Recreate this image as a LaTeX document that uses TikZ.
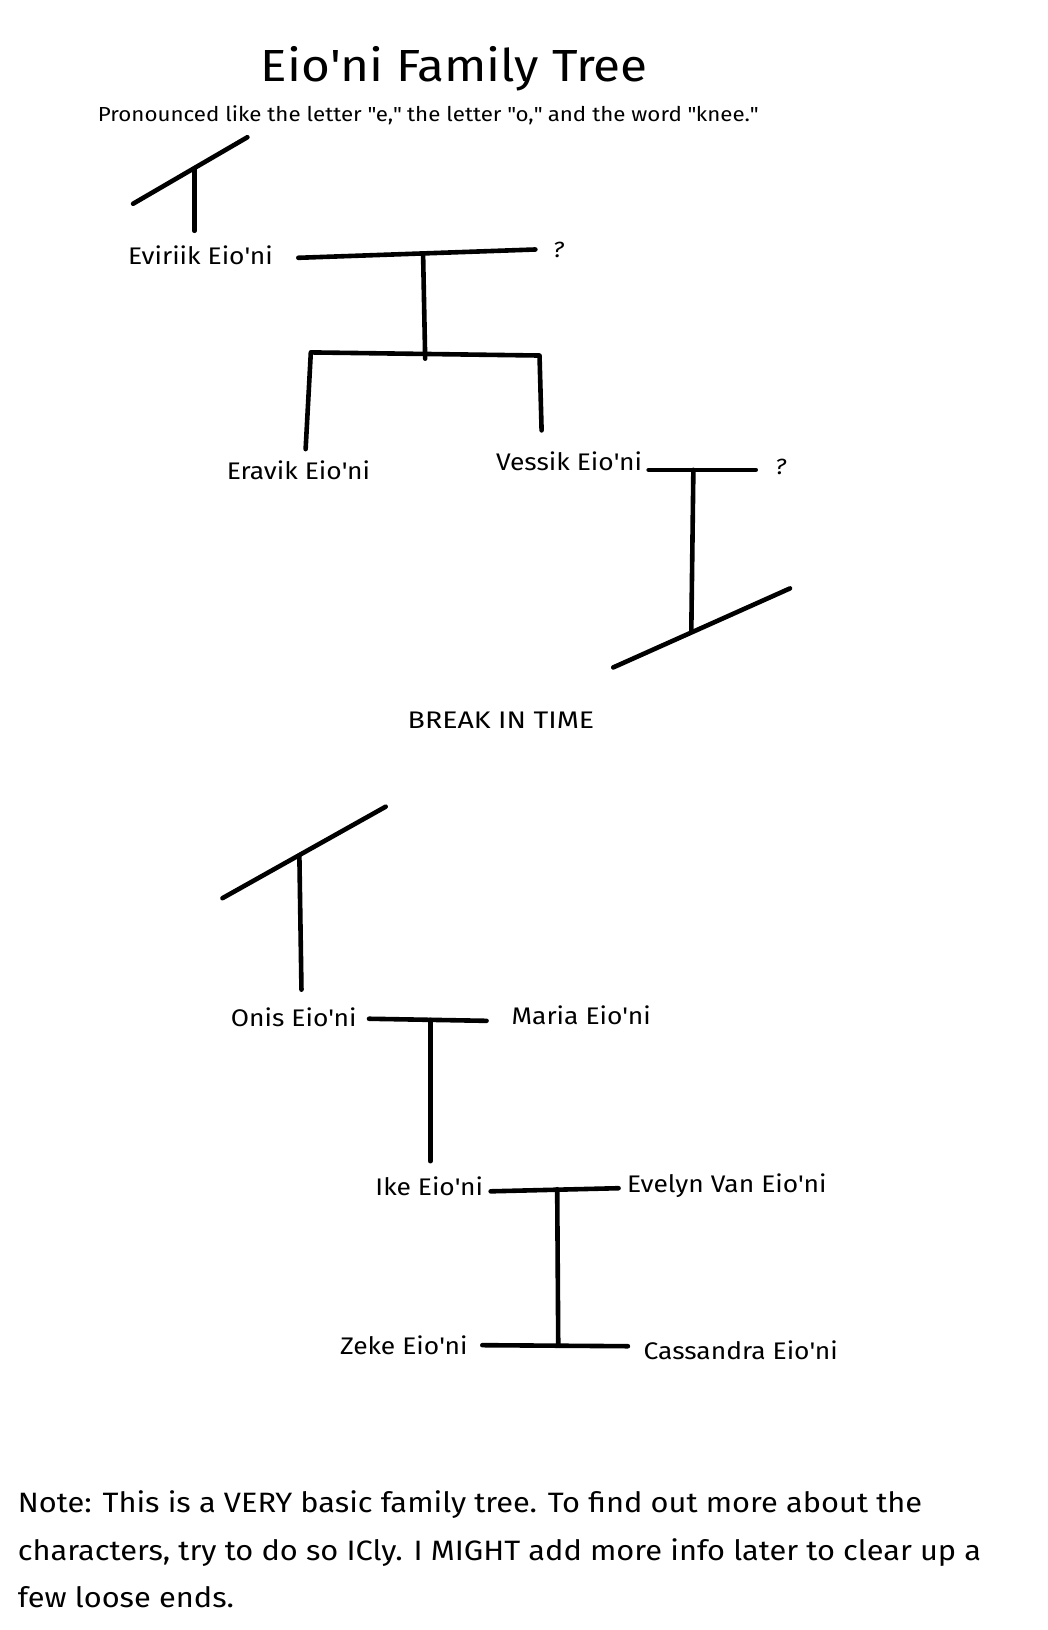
\documentclass[tikz,border=0pt]{standalone}
\usepackage{fontspec}
\setmainfont{Fira Sans}[FakeStretch=1.1]
\newcommand{\ap}{\textquotesingle}
\newcommand{\qq}{\textquotedbl}
\begin{document}
\begin{tikzpicture}[x=1.0397pt,y=-1.0397pt,
  stroke/.style={line width=4.6pt,line cap=round,line join=round},
  nm/.style={anchor=west,inner sep=0pt,font=\fontsize{24}{24}\selectfont},
  qm/.style={anchor=center,inner sep=0pt,font=\fontsize{22}{22}\selectfont\itshape}]
\useasboundingbox[fill=white] (0,0) rectangle (1008,1568);
% titles
\node[inner sep=0pt,font=\fontsize{45}{45}\selectfont] (title) at (437,66) {Eio\ap ni Family Tree};
\node[anchor=west,inner sep=0pt,font=\fontsize{20.3}{20.3}\selectfont] (sub) at (94,111) {Pronounced like the letter \qq e,\qq{} the letter \qq o,\qq{} and the word \qq knee.\qq};
% names
\node[nm] (evi) at (123,246) {Eviriik Eio\ap ni};
\node[qm] (q1) at (537,240) {?};
\node[nm] (era) at (218,452) {Eravik Eio\ap ni};
\node[nm] (ves) at (477,444) {Vessik Eio\ap ni};
\node[qm] (q2) at (751,449) {?};
\node[nm] (brk) at (392,693) {\scalebox{1.08}[1]{BREAK IN TIME}};
\node[nm] (onis) at (222,979) {Onis Eio\ap ni};
\node[nm] (maria) at (492,977) {Maria Eio\ap ni};
\node[nm] (ike) at (361,1141) {Ike Eio\ap ni};
\node[nm] (eve) at (603,1141) {Evelyn Van Eio\ap ni};
\node[nm] (zeke) at (327,1294) {Zeke Eio\ap ni};
\node[nm] (cas) at (619,1299) {Cassandra Eio\ap ni};
% coordinates
\coordinate (a1) at (128,196); \coordinate (a2) at (238,132);
\coordinate (a3) at (187,162); \coordinate (a4) at (187,222);
\coordinate (b1) at (287,248); \coordinate (b2) at (515,240);
\coordinate (b3) at (407,245); \coordinate (b4) at (409,345);
\coordinate (c1) at (299,339); \coordinate (c2) at (519,342);
\coordinate (c3) at (294,432); \coordinate (c4) at (521,414);
\coordinate (d1) at (624,452); \coordinate (d2) at (727,452);
\coordinate (d3) at (667,452); \coordinate (d4) at (665,607);
\coordinate (e1) at (590,642); \coordinate (e2) at (760,566);
\coordinate (f1) at (214,864); \coordinate (f2) at (371,776);
\coordinate (f3) at (288,824); \coordinate (f4) at (290,952);
\coordinate (g1) at (355,980); \coordinate (g2) at (468,982);
\coordinate (g3) at (414,981); \coordinate (g4) at (414,1117);
\coordinate (h1) at (472,1146); \coordinate (h2) at (595,1143);
\coordinate (h3) at (536,1144); \coordinate (h4) at (537,1293);
\coordinate (i1) at (464,1294); \coordinate (i2) at (604,1295);
% strokes
\draw[stroke] (a1) -- (a2); \draw[stroke] (a3) -- (a4);
\draw[stroke] (b1) -- (b2); \draw[stroke] (b3) -- (b4);
\draw[stroke] (c3) -- (c1) -- (c2) -- (c4);
\draw[stroke] (d1) -- (d2); \draw[stroke] (d3) -- (d4);
\draw[stroke] (e1) -- (e2);
\draw[stroke] (f1) -- (f2); \draw[stroke] (f3) -- (f4);
\draw[stroke] (g1) -- (g2); \draw[stroke] (g3) -- (g4);
\draw[stroke] (h1) -- (h2); \draw[stroke] (h3) -- (h4);
\draw[stroke] (i1) -- (i2);
% note
\node[anchor=north west,inner sep=0pt,align=left,font=\fontsize{28}{47.3}\selectfont] (note) at (17,1434) {Note: This is a VERY basic family tree. To find out more about the\\characters, try to do so ICly. I MIGHT add more info later to clear up a\\few loose ends.};
\end{tikzpicture}
\end{document}
